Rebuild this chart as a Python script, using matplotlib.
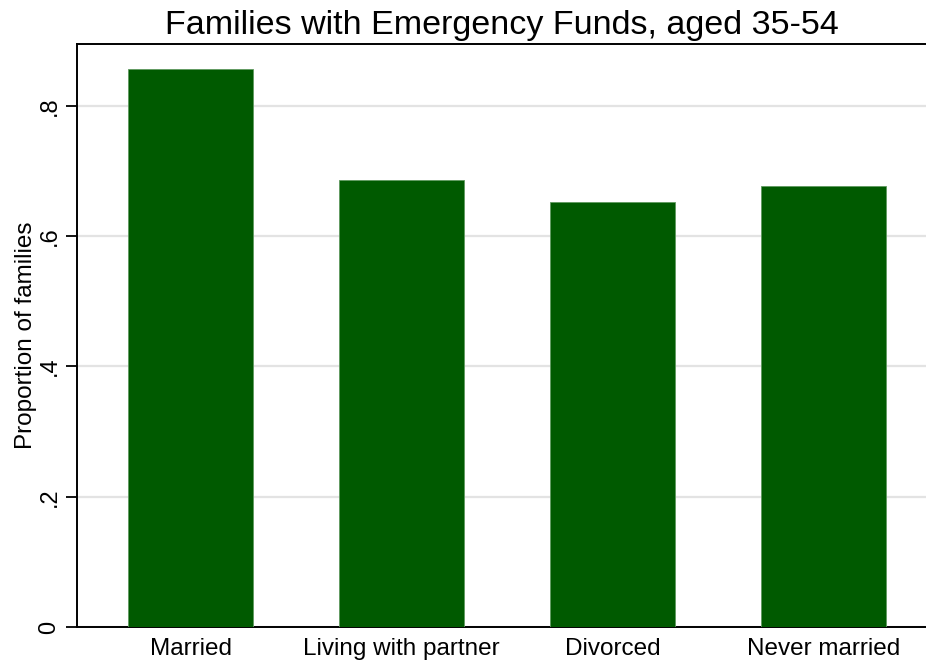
import matplotlib.pyplot as plt

plt.rcParams['font.family'] = ['Liberation Sans', 'DejaVu Sans']

# data
groups = ['Married', 'Living with partner', 'Divorced', 'Never married']
share = [0.857, 0.686, 0.653, 0.677]
yticks = [0, 0.2, 0.4, 0.6, 0.8]
ylabels = ['0', '.2', '.4', '.6', '.8']

fig = plt.figure(figsize=(9.26, 6.63), dpi=100)
ax = fig.add_axes([0.0832, 0.0543, 0.917, 0.8793])

pos = list(range(len(groups)))
ax.bar(pos, share, width=0.593, color='#005a00', edgecolor='#5f9a5f',
       linewidth=0.6, zorder=3)

ax.set_xlim(-0.538, 3.486)
ax.set_ylim(0, 0.895)
ax.set_yticks(yticks)
ax.set_yticklabels(ylabels, rotation=90, va='center', fontsize=17)
ax.set_xticks(pos)
ax.set_xticklabels(groups, fontsize=17.5)
ax.tick_params(axis='x', length=0, pad=8)
ax.tick_params(axis='y', length=8, width=1.3, pad=4)

ax.grid(axis='y', color='#e3e3e3', linewidth=1.6, zorder=0)
ax.set_axisbelow(True)

for side in ['left', 'bottom', 'top']:
    ax.spines[side].set_linewidth(1.4)
ax.spines['right'].set_visible(False)

ax.set_ylabel('Proportion of families', fontsize=17.5, labelpad=1)
ax.set_title('Families with Emergency Funds, aged 35-54', fontsize=24.5, pad=7)

fig.savefig('out.png', dpi=100)
